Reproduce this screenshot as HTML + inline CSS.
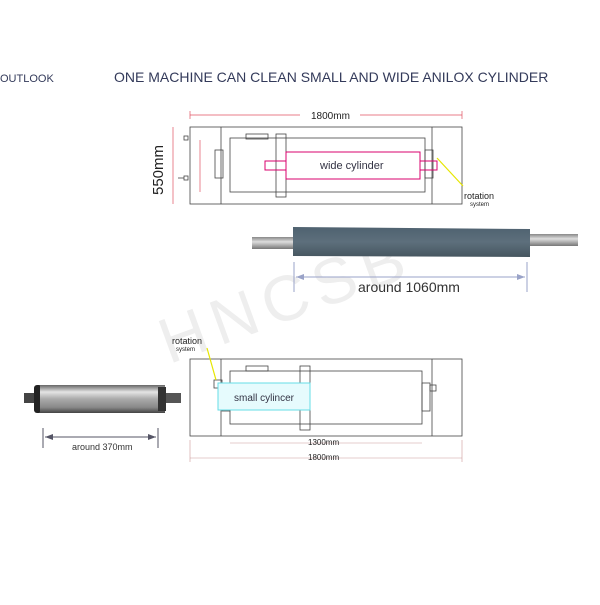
<!DOCTYPE html>
<html><head><meta charset="utf-8"><style>
body{margin:0;background:#fff;width:600px;height:600px;overflow:hidden;font-family:"Liberation Sans",sans-serif}
</style></head><body>
<svg width="600" height="600" viewBox="0 0 600 600" xmlns="http://www.w3.org/2000/svg" font-family="Liberation Sans, sans-serif">
<defs>
<linearGradient id="sil" x1="0" y1="0" x2="0" y2="1">
<stop offset="0" stop-color="#666"/><stop offset="0.25" stop-color="#e4e4e4"/><stop offset="0.5" stop-color="#aaa"/><stop offset="0.8" stop-color="#888"/><stop offset="1" stop-color="#444"/></linearGradient>
<linearGradient id="blu" x1="0" y1="0" x2="0" y2="1">
<stop offset="0" stop-color="#4f6270"/><stop offset="0.5" stop-color="#5d6f7c"/><stop offset="1" stop-color="#46565f"/></linearGradient>
<linearGradient id="sh" x1="0" y1="0" x2="0" y2="1">
<stop offset="0" stop-color="#888"/><stop offset="0.4" stop-color="#ddd"/><stop offset="1" stop-color="#777"/></linearGradient>
</defs>
<text x="0" y="82" font-size="11" fill="#333a5a">OUTLOOK</text>
<text x="114" y="82" font-size="14" fill="#333a5a">ONE MACHINE CAN CLEAN SMALL AND WIDE ANILOX CYLINDER</text>

<!-- watermark -->
<text x="140" y="320" font-size="64" fill="#eeeeee" transform="rotate(-20 280 260)" letter-spacing="8">HNCSB</text>

<!-- top drawing -->
<g stroke="#444" fill="none" stroke-width="0.8">
<rect x="190" y="127" width="272" height="77"/>
<line x1="221" y1="127" x2="221" y2="204"/><line x1="432" y1="127" x2="432" y2="204"/>
<rect x="230" y="138" width="195" height="54"/>
<rect x="246" y="134" width="22" height="5"/>
<rect x="276" y="134" width="10" height="63"/>
<rect x="215" y="150" width="8" height="28"/>
<rect x="425" y="150" width="8" height="28"/>
<rect x="184" y="136" width="4" height="4"/><rect x="184" y="176" width="4" height="4"/>
<line x1="178" y1="178" x2="184" y2="178"/>
</g>
<g stroke="#d9006c" fill="none" stroke-width="1">
<rect x="286" y="152" width="134" height="27"/>
<rect x="265" y="161" width="21" height="9"/>
<rect x="420" y="161" width="17" height="9"/>
</g>
<g stroke="#e05060" stroke-width="0.7" fill="none">
<line x1="190" y1="115" x2="300" y2="115"/><line x1="360" y1="115" x2="462" y2="115"/>
<line x1="190" y1="111" x2="190" y2="119"/><line x1="462" y1="111" x2="462" y2="119"/>
<line x1="173" y1="127" x2="173" y2="204"/>
<line x1="200" y1="140" x2="200" y2="192"/>
</g>
<text x="311" y="119" font-size="10" fill="#222">1800mm</text>
<text x="163" y="195" font-size="15" fill="#222" transform="rotate(-90 163 195)">550mm</text>
<text x="320" y="169" font-size="11" fill="#334">wide cylinder</text>
<line x1="437" y1="158" x2="463" y2="186" stroke="#e6e600" stroke-width="1.2"/>
<text x="464" y="199" font-size="9" fill="#222">rotation</text>
<text x="470" y="206" font-size="6" fill="#222">system</text>

<!-- wide cylinder photo -->
<rect x="252" y="237" width="42" height="12" fill="url(#sh)"/>
<rect x="528" y="234" width="50" height="12" fill="url(#sh)"/>
<polygon points="293,227 530,229 530,257 293,256" fill="url(#blu)"/>
<g stroke="#9aa3c8" stroke-width="1"><line x1="294" y1="262" x2="294" y2="292"/><line x1="527" y1="262" x2="527" y2="292"/><line x1="296" y1="277" x2="525" y2="277"/></g>
<polygon points="296,277 304,274 304,280" fill="#9aa3c8"/><polygon points="525,277 517,274 517,280" fill="#9aa3c8"/>
<text x="358" y="292" font-size="14" fill="#333">around 1060mm</text>

<!-- bottom drawing -->
<g stroke="#444" fill="none" stroke-width="0.8">
<rect x="190" y="359" width="272" height="77"/>
<line x1="221" y1="359" x2="221" y2="436"/><line x1="432" y1="359" x2="432" y2="436"/>
<rect x="230" y="371" width="192" height="53"/>
<rect x="246" y="366" width="22" height="5"/>
<rect x="300" y="366" width="10" height="64"/>
<rect x="214" y="380" width="8" height="8"/><rect x="222" y="383" width="8" height="28"/>
<rect x="422" y="383" width="8" height="28"/><rect x="430" y="385" width="6" height="6"/>
</g>
<rect x="218" y="383" width="92" height="27" fill="#e6fbfd" stroke="#66dde6" stroke-width="1"/>
<text x="234" y="401" font-size="10" fill="#334">small cylincer</text>
<g stroke="#c99" stroke-width="0.6"><line x1="230" y1="443" x2="422" y2="443"/><line x1="190" y1="458" x2="462" y2="458"/><line x1="190" y1="440" x2="190" y2="462"/><line x1="462" y1="440" x2="462" y2="462"/></g>
<text x="308" y="445" font-size="8" fill="#222">1300mm</text>
<text x="308" y="460" font-size="8" fill="#222">1800mm</text>
<text x="172" y="344" font-size="9" fill="#222">rotation</text>
<text x="176" y="351" font-size="6" fill="#222">system</text>
<line x1="207" y1="348" x2="216" y2="380" stroke="#e6e600" stroke-width="1.2"/>

<!-- small cylinder photo -->
<rect x="24" y="393" width="14" height="10" fill="#444"/>
<rect x="163" y="393" width="18" height="10" fill="#555"/>
<rect x="34" y="385" width="8" height="28" rx="3" fill="#222"/>
<rect x="40" y="385" width="125" height="28" fill="url(#sil)"/>
<rect x="158" y="387" width="8" height="24" fill="#333"/>
<g stroke="#556" stroke-width="1"><line x1="43" y1="428" x2="43" y2="448"/><line x1="158" y1="428" x2="158" y2="448"/><line x1="45" y1="437" x2="156" y2="437"/></g>
<polygon points="45,437 53,434 53,440" fill="#556"/><polygon points="156,437 148,434 148,440" fill="#556"/>
<text x="72" y="450" font-size="9" fill="#333">around 370mm</text>
</svg>
</body></html>
